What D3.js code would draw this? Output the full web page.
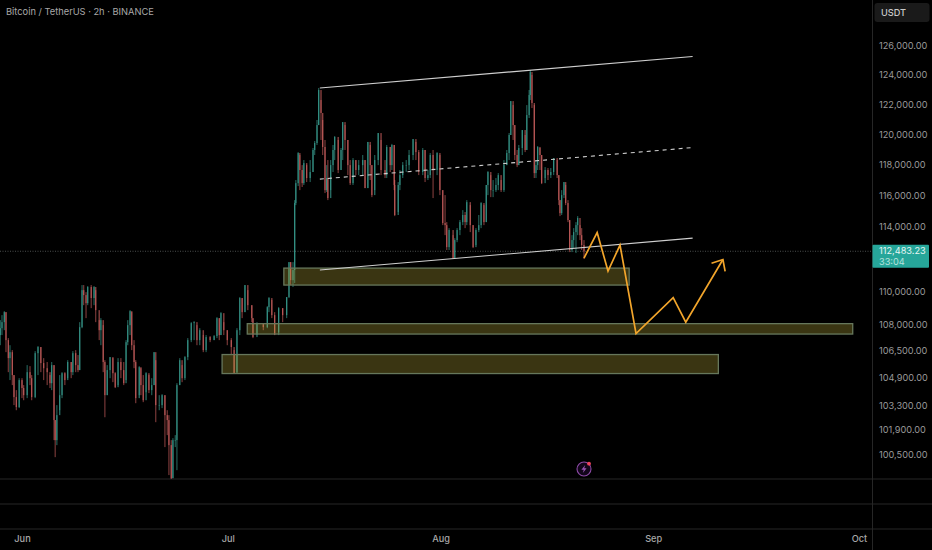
<!DOCTYPE html>
<html>
<head>
<meta charset="utf-8">
<script src="https://cdn.jsdelivr.net/npm/d3@7"></script>
<style>
    html, body { margin: 0; padding: 0; background: #000; overflow: hidden; }
    svg { display: block; }
    text { font-family: Inter, "Noto Sans", sans-serif; }
</style>
</head>
<body>
<script>
var bars = [
    -38, -35, -31, -28, -24, -21, -17, -14, -10, -5,
    0, 3, 9, 14, 17, 23, 28, 33, 38, 44,
    49, 52, 56, 58, 61, 66, 70, 75, 80, 86,
    89, 94, 98, 101, 105, 108, 112, 115, 121, 126,
    129, 135, 138, 142, 145, 149, 154, 159, 163, 168,
    173, 178, 182, 185, 189, 192, 196, 199, 205, 208,
    212, 217, 222, 227, 231, 234, 240, 245, 250, 254,
    257, 261, 264, 268, 271, 276, 280, 285, 290, 296,
    301, 306, 311, 317, 322, 329, 336, 341, 345, 348,
    353, 359, 366, 371, 376, 381, 385, 390, 395, 402,
    404, 411, 422, 429, 432, 437, 442, 449, 456, 463,
    467, 470, 474, 477, 479, 483, 486, 490, 493, 498,
    504, 509, 512, 516, 519, 523, 526, 530, 533, 535,
    540, 544, 547, 553, 558, 561, 565, 570, 574, 579,
    584, 589, 596, 600, 605, 609, 612, 617, 623, 628,
    635, 638, 644, 647, 651, 652, 658, 661, 666, 672,
    677, 684, 689, 694, 701, 705, 710, 714, 719, 726,
    731, 736, 740, 743, 747, 754, 757, 761, 766, 771,
    775, 778, 784, 789, 794, 799, 803, 808, 812, 815,
    820, 824, 829, 833, 838, 843, 848, 852, 855, 859,
    862, 866, 869, 875, 880, 883, 887, 889, 892, 896,
    899, 902, 906, 909, 915, 920, 925, 930, 936, 939,
    941, 944, 948, 951, 955, 958, 962, 965, 969, 972,
    976, 979, 983
];
var closes = [
    107800, 108160, 108760, 107090, 106030, 106380, 105040, 103770, 103200, 104750,
    104290, 103880, 105210, 104860, 103770, 106320, 106680, 105740, 105440, 105210,
    104570, 105620, 102460, 101330, 102740, 103880, 105150, 104750, 105800, 105210,
    106320, 105620, 105330, 107860, 110090, 109790, 109300, 110280, 109610, 110280,
    108880, 107680, 108280, 105800, 103880, 105330, 106090, 105150, 104340, 105800,
    105330, 104570, 106970, 107980, 108820, 106790, 105800, 103710, 105500, 104460,
    103590, 105150, 104170, 104460, 106380, 103310, 103310, 103880, 102740, 102460,
    101050, 99220, 101330, 101330, 104460, 105910, 104860, 106090, 107090, 108100,
    108160, 107090, 107680, 106500, 107270, 107090, 107330, 108400, 107390, 108700,
    107680, 107090, 106680, 105150, 107680, 109610, 108760, 110400, 109180, 108400,
    107270, 108100, 107860, 109060, 109610, 108580, 107390, 109000, 108580, 109670,
    111810, 110700, 111320, 115520, 116800, 118760, 117650, 116800, 118100, 117130,
    117520, 118960, 119420, 120610, 122970, 121420, 119160, 116350, 117130, 115840,
    117970, 118960, 119820, 117650, 118960, 120810, 119620, 117970, 116800, 118300,
    117650, 117970, 118300, 116480, 119490, 117970, 116030, 118300, 120080, 117650,
    117320, 119160, 117970, 119290, 116680, 114760, 116680, 117320, 117970, 117970,
    118630, 119680, 118820, 117520, 118960, 117130, 117320, 118630, 117650, 118760,
    116350, 114250, 114120, 112740, 113810, 112060, 113180, 113810, 114310, 114760,
    114310, 115580, 114120, 112740, 113810, 114120, 115520, 114310, 116680, 117520,
    116350, 116350, 116680, 117320, 116350, 117970, 118760, 119950, 122220, 120610,
    118630, 117970, 119090, 120280, 118960, 121280, 122630, 124200, 122090, 117450,
    117970, 119160, 118630, 116800, 117650, 117320, 117520, 118430, 117320, 115710,
    114880, 116030, 116870, 115520, 114440, 112560, 113180, 113680, 114120, 114570,
    113490, 112870, 112483
];
var highs = [
    108280, 108580, 108820, 108760, 107210, 106790, 106500, 105040, 104170, 104860,
    104860, 104460, 105620, 105560, 105040, 106440, 106740, 106680, 106030, 105800,
    105040, 105800, 105620, 102460, 103310, 105040, 105210, 105210, 105910, 105800,
    106440, 106500, 106210, 108160, 110400, 110400, 109970, 110340, 110400, 110340,
    110090, 108280, 108400, 107980, 105910, 105620, 106090, 106030, 105210, 106030,
    106030, 105800, 107090, 108280, 108880, 108760, 107090, 105910, 105560, 105440,
    105040, 105210, 105040, 104860, 106380, 105910, 103880, 103940, 103880, 103020,
    102740, 101330, 101440, 101610, 104570, 106030, 105620, 106150, 107210, 108160,
    108220, 107980, 107800, 107390, 107390, 107330, 107390, 108460, 108400, 108760,
    108160, 107680, 107210, 106500, 107800, 109670, 109610, 110400, 110090, 109180,
    108400, 108160, 108040, 109120, 109670, 109490, 108760, 109060, 109000, 109670,
    111810, 111810, 111810, 115710, 117000, 118820, 118630, 117970, 118300, 117970,
    118300, 119090, 119550, 120950, 123110, 122290, 120950, 119620, 117970, 118300,
    118300, 119290, 119880, 119620, 119090, 120810, 120610, 119620, 118300, 118430,
    118300, 118300, 118630, 118300, 119490, 119290, 117970, 118630, 120080, 119620,
    118300, 119290, 119160, 119360, 119290, 117000, 116870, 117650, 118170, 118300,
    118960, 119680, 119490, 118960, 119090, 118960, 117650, 118760, 118960, 118820,
    118630, 116350, 116030, 114310, 113930, 113490, 113300, 113930, 114440, 115070,
    114950, 115710, 115390, 114120, 113930, 114760, 115580, 115390, 116680, 117580,
    117320, 117000, 117130, 117450, 117000, 118300, 118960, 120080, 122220, 121950,
    120610, 118960, 119290, 120280, 119950, 121950, 122970, 124340, 124000, 121950,
    118300, 119220, 119090, 118630, 117840, 117780, 117780, 118430, 118300, 117320,
    115710, 116350, 116870, 116680, 115710, 114440, 113490, 113930, 114310, 114690,
    114120, 113930, 113180
];
var lows = [
    106790, 107390, 107680, 106380, 105210, 104750, 104460, 103310, 103020, 103140,
    103710, 103590, 103710, 104460, 103590, 103710, 105040, 105210, 104750, 104460,
    104290, 104170, 101330, 100380, 101050, 103020, 103710, 104460, 104860, 104860,
    105040, 105210, 105210, 105330, 107800, 109180, 108400, 109180, 109000, 109180,
    108160, 107090, 106790, 105210, 102620, 103880, 104860, 104630, 104290, 104460,
    104860, 104460, 104750, 106790, 107390, 106500, 105440, 103420, 103880, 103880,
    103480, 104050, 104000, 103880, 104460, 102340, 103020, 103140, 100940, 101610,
    99390, 99170, 99220, 100940, 99660, 104460, 104630, 104750, 105910, 106970,
    107090, 106790, 106790, 106380, 106380, 106970, 107090, 107210, 107090, 107390,
    107390, 106790, 106210, 105150, 105210, 107390, 108400, 108760, 108880, 108160,
    107210, 107390, 107680, 107800, 108760, 108400, 107390, 107560, 108160, 108400,
    109610, 110400, 110280, 110520, 115390, 116610, 116350, 116550, 116680, 116870,
    116870, 117520, 118630, 119290, 120610, 119620, 118630, 116160, 116230, 115710,
    116350, 117520, 118300, 117450, 117650, 118300, 118960, 117320, 116680, 116680,
    117320, 117320, 117320, 116480, 116480, 117000, 115900, 116350, 117970, 117320,
    117130, 117130, 117520, 117650, 116350, 114690, 114950, 116350, 117130, 117520,
    117650, 118300, 118300, 117320, 117320, 116870, 117000, 117130, 115840, 117320,
    116030, 114120, 113490, 112560, 112560, 112000, 112060, 113050, 113490, 114120,
    113930, 114120, 113680, 112680, 112870, 113680, 113930, 114120, 114310, 116030,
    115900, 115900, 116230, 116350, 116230, 116230, 117970, 118300, 119950, 119620,
    118300, 117840, 117970, 118630, 118820, 118960, 121080, 122290, 121750, 117130,
    117130, 117650, 117650, 116740, 117130, 117000, 117130, 117320, 117130, 115390,
    114690, 114760, 115840, 115390, 114310, 112430, 112430, 112680, 112370, 113490,
    113180, 112560, 112000
];
var firstOpen = 107390;
var lastPrice = 112483.23;
var countdown = "33:04";

var priceTicks = [126000, 124000, 122000, 120000, 118000, 116000, 114000, 110000, 108000, 106500, 104900, 103300, 101900, 100500];
var monthBars = [0, 360, 732, 1104, 1464];
var monthLabels = ["Jun", "Jul", "Aug", "Sep", "Oct"];

// demand zones
var zoneStart = [458, 394, 350];
var zoneEnd = [1062, 1453, 1218];
var zoneTop = [111440, 108070, 106240];
var zoneBottom = [110400, 107450, 105130];

// channel lines drawn by hand
var channelBars = [521, 1173];
var channelUpper = [123110, 125270];
var channelMiddle = [117060, 119120];
var channelLower = [111320, 113300];

// projected path
var pathBars = [983, 1006, 1025, 1046, 1074, 1139, 1161, 1226];
var pathPrices = [112060, 113650, 111260, 112870, 107480, 109630, 108160, 111970];

var width = 932, height = 550;
var axisX = 872, paneBottom = 479;

var x = d3.scaleLinear().domain([0, 1464]).range([22, 859]);
var y = d3.scaleLog().domain([100500, 126000]).range([455, 46]);

var candles = bars.map(function (b, i) {
    return {
        bar: b,
        open: i === 0 ? firstOpen : closes[i - 1],
        high: highs[i],
        low: lows[i],
        close: closes[i]
    };
});

var svg = d3.select("body").append("svg")
    .attr("width", width)
    .attr("height", height)
    .style("background", "#000");

svg.append("clipPath").attr("id", "pane")
    .append("rect")
    .attr("width", axisX)
    .attr("height", paneBottom);

// pane separators
svg.selectAll(".sep")
    .data([479, 504, 529])
    .enter().append("line")
    .attr("class", "sep")
    .attr("x1", 0)
    .attr("x2", width)
    .attr("y1", function (d) { return d; })
    .attr("y2", function (d) { return d; })
    .attr("stroke", "#262626");

svg.append("line")
    .attr("x1", axisX + 0.5)
    .attr("x2", axisX + 0.5)
    .attr("y1", 0)
    .attr("y2", height)
    .attr("stroke", "#262626");

var chart = svg.append("g").attr("clip-path", "url(#pane)");

// last price line
chart.append("line")
    .attr("x1", 0)
    .attr("x2", axisX)
    .attr("y1", y(lastPrice))
    .attr("y2", y(lastPrice))
    .attr("stroke", "#4a4f4e")
    .attr("stroke-dasharray", "1,1.5");

var candleG = chart.append("g")
    .style("filter", "blur(0.4px)");

function candleColor(d) {
    return d.close >= d.open ? "#3fae9f" : "#e06a68";
}

candleG.selectAll(".wick")
    .data(candles)
    .enter().append("line")
    .attr("class", "wick")
    .attr("x1", function (d) { return x(d.bar); })
    .attr("x2", function (d) { return x(d.bar); })
    .attr("y1", function (d) { return y(d.high); })
    .attr("y2", function (d) { return y(d.low); })
    .attr("stroke", candleColor)
    .attr("stroke-opacity", 0.8)
    .attr("stroke-width", 0.8);

candleG.selectAll(".body")
    .data(candles)
    .enter().append("rect")
    .attr("class", "body")
    .attr("x", function (d) { return x(d.bar) - 0.6; })
    .attr("y", function (d) { return y(Math.max(d.open, d.close)); })
    .attr("width", 1.2)
    .attr("height", function (d) { return Math.max(0.5, Math.abs(y(d.open) - y(d.close))); })
    .attr("fill", candleColor)
    .attr("fill-opacity", 0.7);

// zones
chart.selectAll(".zone")
    .data(zoneStart)
    .enter().append("rect")
    .attr("class", "zone")
    .attr("x", function (d) { return x(d); })
    .attr("y", function (d, i) { return y(zoneTop[i]); })
    .attr("width", function (d, i) { return x(zoneEnd[i]) - x(d); })
    .attr("height", function (d, i) { return y(zoneBottom[i]) - y(zoneTop[i]); })
    .attr("fill", "#bfae3c")
    .attr("fill-opacity", 0.3)
    .attr("stroke", "#66775c")
    .attr("stroke-width", 1.3);

// channel
var channelLine = d3.line()
    .x(function (d, i) { return x(channelBars[i]); })
    .y(function (d) { return y(d); });

[channelUpper, channelMiddle, channelLower].forEach(function (c, i) {
    chart.append("path")
        .attr("d", channelLine(c))
        .attr("fill", "none")
        .attr("stroke", "#cfcfcf")
        .attr("stroke-width", 1.1)
        .attr("stroke-dasharray", i === 1 ? "4,4" : null);
});

// projection with arrow head
var pathLine = d3.line()
    .x(function (d, i) { return x(pathBars[i]); })
    .y(function (d) { return y(d); });

chart.append("path")
    .attr("d", pathLine(pathPrices))
    .attr("fill", "none")
    .attr("stroke", "#f2a52b")
    .attr("stroke-width", 1.7)
    .attr("stroke-linejoin", "miter");

var n = pathBars.length - 1;
var tipX = x(pathBars[n]), tipY = y(pathPrices[n]);
var ang = Math.atan2(y(pathPrices[n - 1]) - tipY, x(pathBars[n - 1]) - tipX);
var arrow = d3.path();
arrow.moveTo(tipX + 12 * Math.cos(ang + 0.72), tipY + 12 * Math.sin(ang + 0.72));
arrow.lineTo(tipX, tipY);
arrow.lineTo(tipX + 12 * Math.cos(ang - 0.72), tipY + 12 * Math.sin(ang - 0.72));
chart.append("path")
    .attr("d", arrow.toString())
    .attr("fill", "none")
    .attr("stroke", "#f2a52b")
    .attr("stroke-width", 1.7);

// the little bolt badge
var badge = svg.append("g").attr("transform", "translate(584,469)");
badge.append("circle")
    .attr("r", 7)
    .attr("fill", "#12061a")
    .attr("stroke", "#8d4aa6")
    .attr("stroke-width", 1.1);
badge.append("path")
    .attr("d", "M1.2,-4 L-2.6,0.8 L-0.2,0.8 L-1.2,4 L2.6,-0.8 L0.2,-0.8 Z")
    .attr("fill", "#9a55b5");
badge.append("circle")
    .attr("cx", 5)
    .attr("cy", -5.3)
    .attr("r", 1.9)
    .attr("fill", "#f0435c");

// title
svg.append("text")
    .attr("x", 6)
    .attr("y", 15)
    .attr("fill", "#a8a8a8")
    .style("font-size", "9.3px")
    .text("Bitcoin / TetherUS · 2h · BINANCE");

// price axis
var yAxis = d3.axisRight(y)
    .tickValues(priceTicks)
    .tickSize(0)
    .tickPadding(0)
    .tickFormat(d3.format(",.2f"));

var yG = svg.append("g")
    .attr("transform", "translate(" + 879 + ",0)")
    .call(yAxis);
yG.select(".domain").remove();
yG.selectAll("text")
    .attr("fill", "#9a9a9a")
    .style("font-family", "Inter, sans-serif")
    .style("font-size", "9.2px");

// time axis
var xAxis = d3.axisBottom(x)
    .tickValues(monthBars)
    .tickSize(0)
    .tickPadding(0)
    .tickFormat(function (d, i) { return monthLabels[i]; });

var xG = svg.append("g")
    .attr("transform", "translate(0," + 535 + ")")
    .call(xAxis);
xG.select(".domain").remove();
xG.selectAll("text")
    .attr("fill", "#a8a8a8")
    .style("font-family", "Inter, sans-serif")
    .style("font-size", "9.2px")
    .style("font-weight", 500);

// currency button
svg.append("rect")
    .attr("x", 874.5)
    .attr("y", 3)
    .attr("width", 55)
    .attr("height", 19)
    .attr("rx", 3)
    .attr("fill", "#1a1a1a");
svg.append("text")
    .attr("x", 881)
    .attr("y", 16)
    .attr("fill", "#c8c8c8")
    .style("font-size", "9.2px")
    .style("font-weight", 500)
    .text("USDT");

// last price tag
svg.append("rect")
    .attr("x", axisX + 0.5)
    .attr("y", y(lastPrice) - 6.5)
    .attr("width", 56.5)
    .attr("height", 23)
    .attr("rx", 1)
    .attr("fill", "#26a69a");
svg.append("text")
    .attr("x", 879)
    .attr("y", y(lastPrice) + 3)
    .attr("fill", "#e8f6f4")
    .style("font-size", "9.2px")
    .text(d3.format(",.2f")(lastPrice));
svg.append("text")
    .attr("x", 879)
    .attr("y", y(lastPrice) + 13.5)
    .attr("fill", "#b6e2dc")
    .style("font-size", "9.2px")
    .text(countdown);
</script>
</body>
</html>
